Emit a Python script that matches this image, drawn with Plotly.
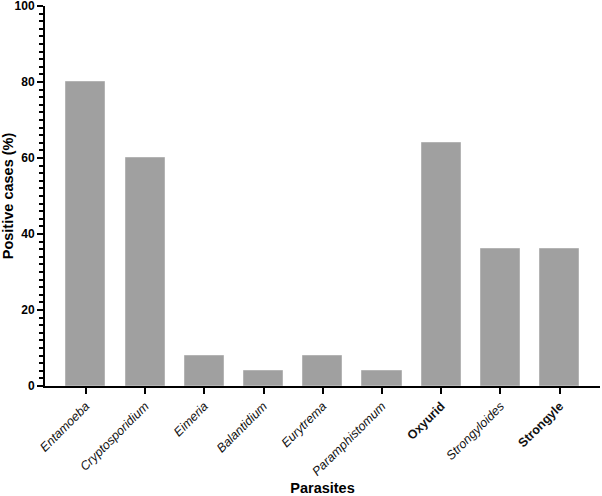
import plotly.graph_objects as go

parasites = ["Entamoeba", "Cryptosporidium", "Eimeria", "Balantidium", "Eurytrema",
             "Paramphistomum", "Oxyurid", "Strongyloides", "Strongyle"]
positive_pct = [80, 60, 8, 4, 8, 4, 64, 36, 36]
bold_labels = ["Oxyurid", "Strongyle"]
tick_labels = [f"<b>{p}</b>" if p in bold_labels else f"<i>{p}</i>" for p in parasites]
y_ticks = [0, 20, 40, 60, 80, 100]

fig = go.Figure(go.Bar(
    x=list(range(len(parasites))),
    y=positive_pct,
    width=0.66,
    marker=dict(color="#a0a0a0", line=dict(color="#b4b4b4", width=1)),
    cliponaxis=False,
))

fig.update_layout(
    width=602, height=496,
    margin=dict(l=45, r=2, t=6, b=110),
    plot_bgcolor="white", paper_bgcolor="white",
    showlegend=False,
    font=dict(family="Liberation Sans, Arial, sans-serif", color="black"),
    bargap=0,
)
fig.update_xaxes(
    automargin=False,
    range=[-0.69, 8.68],
    tickmode="array", tickvals=list(range(len(parasites))), ticktext=tick_labels,
    tickangle=-45, tickfont=dict(size=12.5, color="#111"),
    ticks="outside", ticklen=6, tickwidth=2, tickcolor="black",
    ticklabeloverflow="allow",
    showline=True, linewidth=2, linecolor="black",
    showgrid=False, zeroline=False,
    title=dict(text="<b>Parasites</b>", font=dict(size=14.5), standoff=11),
)
fig.update_yaxes(
    automargin=False,
    range=[0, 100],
    tickmode="array", tickvals=y_ticks, ticktext=[f"<b>{v}</b>" for v in y_ticks],
    tickfont=dict(size=12),
    ticks="outside", ticklen=6, tickwidth=2, tickcolor="black",
    ticklabeloverflow="allow",
    minor=dict(dtick=2, ticks="outside", ticklen=4, tickwidth=1.5, tickcolor="black", showgrid=False),
    showline=True, linewidth=2, linecolor="black",
    showgrid=False, zeroline=False,
    title=dict(text="<b>Positive cases (%)</b>", font=dict(size=14.5), standoff=6),
)

fig.write_html("out.html", config={"displayModeBar": False},
               post_script="document.body.style.margin='0';document.body.style.padding='0';")
